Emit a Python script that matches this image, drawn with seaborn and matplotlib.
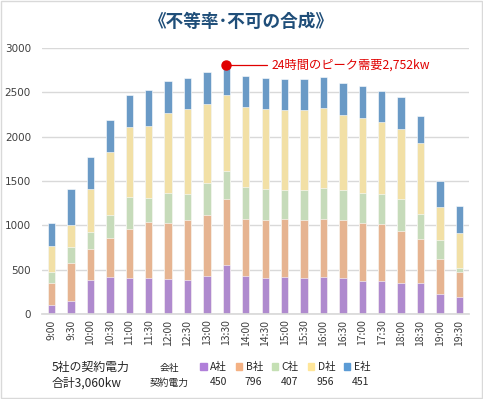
import numpy as np
import pandas as pd
import seaborn as sns
import matplotlib.pyplot as plt
from matplotlib.patches import Rectangle

# time slots on the x axis
times = ["9:00", "9:30", "10:00", "10:30", "11:00", "11:30", "12:00", "12:30",
         "13:00", "13:30", "14:00", "14:30", "15:00", "15:30", "16:00", "16:30",
         "17:00", "17:30", "18:00", "18:30", "19:00", "19:30"]

# demand per company (kw)
a_vals = [98, 151, 378, 412, 401, 401, 393, 378, 423, 548, 431,
          401, 420, 401, 420, 401, 367, 367, 355, 344, 227, 197]
b_vals = [250, 424, 355, 450, 559, 639, 635, 680, 696, 745, 646,
          654, 646, 654, 646, 654, 657, 646, 582, 507, 389, 276]
c_vals = [124, 177, 193, 249, 355, 264, 340, 295, 359, 321, 356,
          355, 333, 344, 355, 344, 344, 344, 356, 279, 216, 41]
d_vals = [292, 257, 484, 719, 794, 817, 904, 960, 888, 851, 899,
          903, 907, 907, 904, 850, 847, 805, 794, 794, 374, 401]
e_vals = [260, 401, 359, 359, 356, 400, 355, 344, 359, 340, 348,
          344, 340, 340, 344, 359, 359, 348, 355, 314, 298, 302]

companies = ["A社", "B社", "C社", "D社", "E社"]
contract = [450, 796, 407, 956, 451]
colors = ["#B07FD9", "#F4B183", "#C5E0B4", "#FFE699", "#5B9BD5"]

sns.set_theme(style="white")
plt.rcParams['font.family'] = ['Noto Sans CJK JP', 'DejaVu Sans']

df = pd.DataFrame({"time": times, "A社": a_vals, "B社": b_vals, "C社": c_vals,
                   "D社": d_vals, "E社": e_vals})
cum = df[companies].cumsum(axis=1)

fig = plt.figure(figsize=(4.83, 3.99), dpi=100)
ax = fig.add_axes([42 / 483, 1 - 314 / 399, 427 / 483, 266 / 399])

# stacked bars: draw the cumulative totals from the top layer down
handles = []
for name, col in reversed(list(zip(companies, colors))):
    sns.barplot(x=df["time"], y=cum[name], color=col, width=0.38,
                edgecolor="white", linewidth=0.4, ax=ax)
    handles.append(Rectangle((0, 0), 1, 1, color=col))
handles = handles[::-1]

ax.set_ylim(0, 3000)
ax.set_xlim(-0.5, len(times) - 0.5)
ax.set_yticks(range(0, 3001, 500))
ax.set_xlabel("")
ax.set_ylabel("")
ax.yaxis.grid(True, color="#D9D9D9", linewidth=1)
ax.set_axisbelow(True)
for s in ["top", "right", "left"]:
    ax.spines[s].set_visible(False)
ax.spines["bottom"].set_color("#D9D9D9")
ax.tick_params(axis="y", length=0, labelsize=7.5, labelcolor="#404040", pad=8)
ax.tick_params(axis="x", which="major", length=0, labelsize=7.5,
               labelcolor="#404040", rotation=90, pad=4)
ax.set_xticks(np.arange(-0.5, len(times), 1), minor=True)
ax.tick_params(axis="x", which="minor", length=4, color="#D9D9D9", direction="out")
for lbl in ax.get_yticklabels():
    lbl.set_family(["DejaVu Sans"])

# peak marker
totals = cum["E社"].to_numpy()
pk = int(np.argmax(totals))
ax.plot([pk, pk + 2.1], [totals[pk], totals[pk]], color="#E00000", linewidth=0.9)
ax.plot(pk, totals[pk], "o", color="#E00000", markersize=6.5)
ax.text(pk + 2.35, totals[pk], "24時間のピーク需要2,752kw", color="#E00000",
        fontsize=8.8, va="center")

fig.text(0.5, 1 - 22 / 399, "《不等率･不可の合成》", ha="center", va="center",
         fontsize=12.7, fontweight="bold", color="#1F4E79")

# bottom legend block
fig.text(52 / 483, 1 - 367 / 399, "5社の契約電力", fontsize=8.6, va="center", color="#262626")
fig.text(52 / 483, 1 - 383 / 399, "合計3,060kw", fontsize=8.6, va="center", color="#262626")
fig.text(169 / 483, 1 - 368 / 399, "会社", fontsize=7, va="center", ha="center", color="#262626")
fig.text(169 / 483, 1 - 383 / 399, "契約電力", fontsize=7, va="center", ha="center", color="#262626")
fig.legend(handles, companies, loc="center left", ncol=5, frameon=False,
           bbox_to_anchor=(191 / 483, 1 - 367 / 399), fontsize=7.5,
           handlelength=0.6, handleheight=0.6, handletextpad=0.35,
           columnspacing=0.85, labelcolor="#262626")
for i, v in enumerate(contract):
    fig.text((218 + 35.7 * i) / 483, 1 - 382 / 399, str(v), fontsize=7.5,
             va="center", ha="center", color="#262626")

fig.patches.append(Rectangle((0.002, 0.002), 0.996, 0.996, transform=fig.transFigure,
                             fill=False, edgecolor="#D9D9D9", linewidth=1))

fig.savefig("out.png", dpi=100)
